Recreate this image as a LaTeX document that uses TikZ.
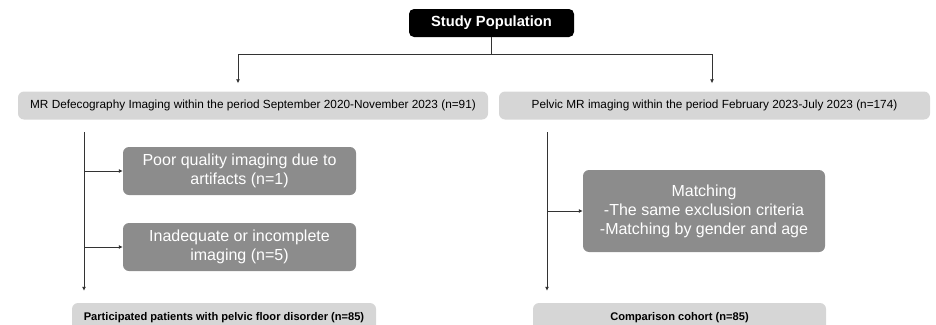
\documentclass[tikz,border=0pt]{standalone}
\usepackage{fontspec}
\setmainfont{Liberation Sans}
\usetikzlibrary{arrows.meta}
\definecolor{lightbox}{HTML}{D6D6D6}
\definecolor{darkbox}{HTML}{8C8C8C}
\definecolor{flowline}{HTML}{333333}
\tikzset{
  headbox/.style={fill=black, text=white, rounded corners=5pt, inner sep=0pt,
    font=\bfseries\fontsize{14.7}{16}\selectfont, minimum width=165pt, minimum height=28pt},
  cohortbox/.style={fill=lightbox, rounded corners=6pt, inner sep=0pt,
    font=\fontsize{11.8}{13}\selectfont, minimum height=28pt},
  stepbox/.style={fill=darkbox, text=white, rounded corners=6pt, inner sep=0pt, align=center,
    font=\fontsize{16}{19}\selectfont, minimum width=233pt, minimum height=48pt},
  finalbox/.style={fill=lightbox, rounded corners=6pt, inner sep=0pt,
    font=\bfseries\fontsize{11.1}{12}\selectfont, minimum height=30pt},
  flow/.style={draw=flowline, line width=0.8pt},
  flowarrow/.style={flow, -{Latex[length=4pt,width=4pt]}}
}

\begin{document}
\begin{tikzpicture}[x=1pt, y=-1pt]
    \clip (0,0) rectangle (936,324);

    % top
    \node[headbox] (study) at (491.5,23) {Study Population};

    \node[cohortbox, minimum width=470pt] (defeco) at (253,105.5)
        {MR Defecography Imaging within the period September 2020-November 2023 (n=91)};
    \node[cohortbox, minimum width=431pt] (pelvic) at (714.5,105.5)
        {Pelvic MR imaging within the period February 2023-July 2023 (n=174)};

    \coordinate (splitL) at (238,54);
    \coordinate (splitR) at (712,54);
    \draw[flow] (study) -- (study.south |- splitL);
    \draw[flow] (splitL) -- (splitR);
    \draw[flowarrow, shorten >=8pt] (splitL) -- (splitL |- defeco.north);
    \draw[flowarrow, shorten >=8pt] (splitR) -- (splitR |- pelvic.north);

    % for the patient group
    \node[stepbox] (poor) at (239.5,171) {Poor quality imaging due to\\artifacts (n=1)};
    \node[stepbox] (inadequate) at (239.5,247) {Inadequate or incomplete\\imaging (n=5)};
    \node[finalbox, minimum width=304pt] (patients) at (224,318)
        {Participated patients with pelvic floor disorder (n=85)};

    \coordinate (leftTop) at (84,132);
    \draw[flowarrow, shorten >=12pt] (leftTop) -- (leftTop |- patients.north);
    \draw[flowarrow] (leftTop |- poor.west) -- (poor.west);
    \draw[flowarrow] (leftTop |- inadequate.west) -- (inadequate.west);

    % for the comparison group
    \node[stepbox, minimum width=242pt, minimum height=82pt] (matching) at (704,211)
        {Matching\\-The same exclusion criteria\\-Matching by gender and age};
    \node[finalbox, minimum width=293pt] (cohort) at (679.5,318) {Comparison cohort (n=85)};

    \coordinate (rightTop) at (547,132);
    \draw[flowarrow, shorten >=12pt] (rightTop) -- (rightTop |- cohort.north);
    \draw[flowarrow] (rightTop |- matching.west) -- (matching.west);
\end{tikzpicture}
\end{document}
